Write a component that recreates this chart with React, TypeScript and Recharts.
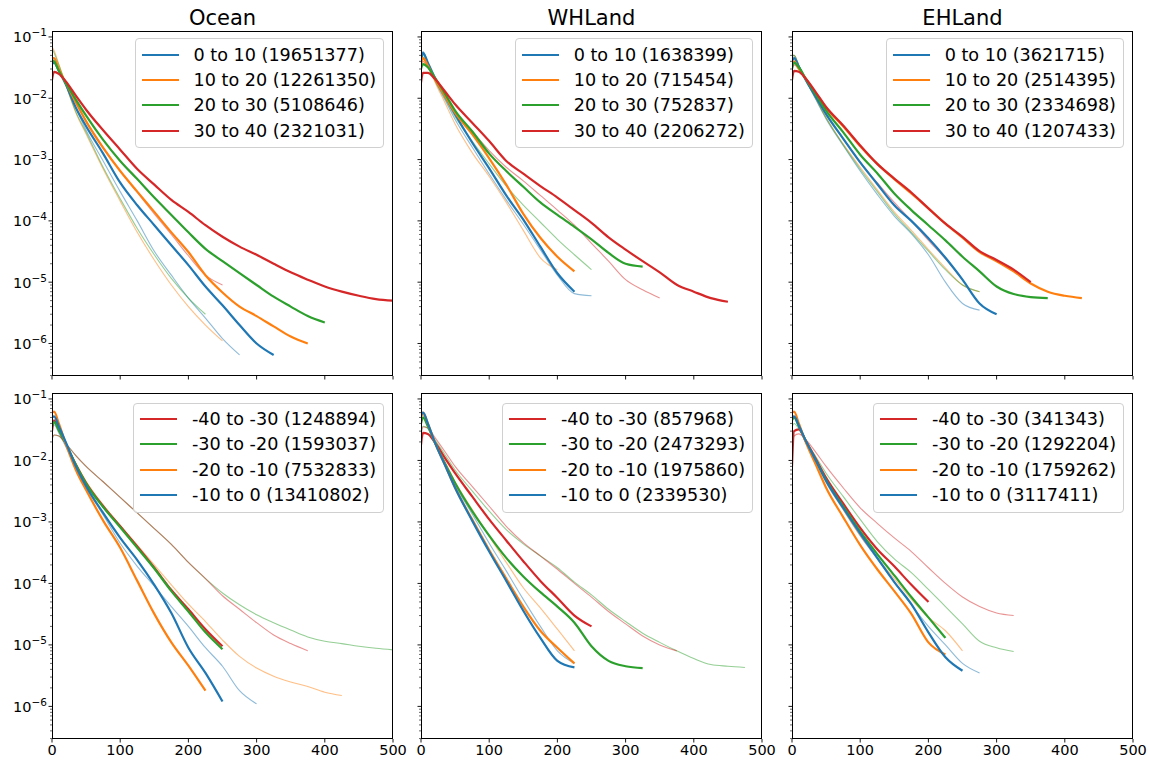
import React from "react";
import { LineChart, Line, XAxis, YAxis } from "recharts";

// shared x grid (bins)
const X = [0, 3, 10, 20, 35, 50, 75, 100, 125, 150, 175, 200, 225, 250, 275, 300, 325, 350, 375, 400, 425, 450, 475, 500];

const X_TICKS = [0, 100, 200, 300, 400, 500];
const Y_MAJOR = [1e-1, 1e-2, 1e-3, 1e-4, 1e-5, 1e-6];
const Y_MAJOR_LABELS = ["−1", "−2", "−3", "−4", "−5", "−6"];
const Y_MIN = 2.95e-7;
const Y_MAX = 0.125;

const TITLES = ["Ocean", "WHLand", "EHLand"];
const BANDS_N = ["0 to 10", "10 to 20", "20 to 30", "30 to 40"];
const BANDS_S = ["-40 to -30", "-30 to -20", "-20 to -10", "-10 to 0"];

const COUNTS_OCEAN_N = [19651377, 12261350, 5108646, 2321031];
const COUNTS_WH_N = [1638399, 715454, 752837, 2206272];
const COUNTS_EH_N = [3621715, 2514395, 2334698, 1207433];
const COUNTS_OCEAN_S = [1248894, 1593037, 7532833, 13410802];
const COUNTS_WH_S = [857968, 2473293, 1975860, 2339530];
const COUNTS_EH_S = [341343, 1292204, 1759262, 3117411];

const BLUE = "#1f77b4";
const ORANGE = "#ff7f0e";
const GREEN = "#2ca02c";
const RED = "#d62728";

// ---- Ocean, north bands
const oceanN_blue = [0.036, 0.038, 0.028, 0.017, 7.0e-3, 3.5e-3, 1.25e-3, 4.2e-4, 1.8e-4, 8.5e-5, 4.0e-5, 1.9e-5, 8.5e-6, 4.2e-6, 2.0e-6, 1.0e-6, 6.5e-7];
const oceanN_orange = [0.045, 0.045, 0.030, 0.018, 8.5e-3, 4.2e-3, 1.55e-3, 6.5e-4, 3.0e-4, 1.4e-4, 6.5e-5, 3.1e-5, 1.3e-5, 6.8e-6, 4.0e-6, 2.8e-6, 1.9e-6, 1.3e-6, 1.0e-6];
const oceanN_green = [0.042, 0.040, 0.028, 0.018, 9.5e-3, 5.2e-3, 2.1e-3, 9.5e-4, 4.8e-4, 2.4e-4, 1.25e-4, 6.5e-5, 3.5e-5, 2.2e-5, 1.4e-5, 9.0e-6, 5.8e-6, 4.0e-6, 2.8e-6, 2.2e-6];
const oceanN_red = [0.020, 0.027, 0.025, 0.019, 1.1e-2, 6.5e-3, 3.0e-3, 1.45e-3, 7.0e-4, 3.9e-4, 2.2e-4, 1.4e-4, 8.5e-5, 5.5e-5, 3.8e-5, 2.8e-5, 2.0e-5, 1.45e-5, 1.1e-5, 8.5e-6, 7.0e-6, 6.0e-6, 5.3e-6, 5.0e-6];
const oceanNf_blue = [0.045, 0.045, 0.030, 0.017, 7.0e-3, 3.0e-3, 9.5e-4, 3.0e-4, 1.0e-4, 3.2e-5, 1.3e-5, 5.5e-6, 2.6e-6, 1.2e-6, 6.5e-7];
const oceanNf_orange = [0.070, 0.060, 0.036, 0.017, 5.8e-3, 2.6e-3, 7.0e-4, 2.1e-4, 6.5e-5, 2.3e-5, 9.0e-6, 4.0e-6, 2.0e-6, 1.1e-6];
const oceanNf_green = [0.065, 0.055, 0.035, 0.017, 6.0e-3, 2.8e-3, 7.5e-4, 2.3e-4, 7.5e-5, 2.8e-5, 1.15e-5, 5.5e-6, 3.0e-6];
const oceanNf_red = [0.035, 0.040, 0.028, 0.018, 8.5e-3, 4.3e-3, 1.6e-3, 6.5e-4, 2.9e-4, 1.3e-4, 6.0e-5, 2.7e-5, 1.3e-5, 9.0e-6];

// ---- WHLand, north bands
const whN_blue = [0.040, 0.055, 0.038, 0.022, 1.1e-2, 5.5e-3, 1.9e-3, 7.2e-4, 2.6e-4, 1.05e-4, 3.8e-5, 1.4e-5, 7.0e-6];
const whN_orange = [0.035, 0.045, 0.034, 0.021, 1.1e-2, 5.8e-3, 2.6e-3, 1.05e-3, 3.9e-4, 1.3e-4, 5.3e-5, 2.6e-5, 1.5e-5];
const whN_green = [0.030, 0.036, 0.032, 0.022, 1.2e-2, 6.3e-3, 2.9e-3, 1.25e-3, 6.5e-4, 3.6e-4, 2.0e-4, 1.25e-4, 8.0e-5, 5.0e-5, 3.0e-5, 2.0e-5, 1.8e-5];
const whN_red = [0.018, 0.026, 0.026, 0.021, 1.3e-2, 8.0e-3, 4.0e-3, 2.0e-3, 9.5e-4, 5.9e-4, 3.7e-4, 2.4e-4, 1.5e-4, 9.3e-5, 5.4e-5, 3.4e-5, 2.2e-5, 1.45e-5, 9.1e-6, 7.0e-6, 5.5e-6, 4.8e-6];
const whNf_blue = [0.050, 0.058, 0.038, 0.020, 9.5e-3, 4.5e-3, 1.6e-3, 5.8e-4, 2.2e-4, 8.8e-5, 3.4e-5, 1.3e-5, 6.5e-6, 6.0e-6];
const whNf_orange = [0.050, 0.055, 0.036, 0.019, 8.5e-3, 3.8e-3, 1.3e-3, 5.3e-4, 2.0e-4, 7.0e-5, 2.5e-5, 1.6e-5];
const whNf_green = [0.050, 0.050, 0.035, 0.020, 1.0e-2, 5.0e-3, 2.0e-3, 8.5e-4, 3.7e-4, 1.8e-4, 9.5e-5, 5.0e-5, 2.8e-5, 1.6e-5];
const whNf_red = [0.035, 0.040, 0.032, 0.021, 1.15e-2, 6.2e-3, 2.9e-3, 1.4e-3, 7.5e-4, 4.5e-4, 2.6e-4, 1.5e-4, 8.5e-5, 4.3e-5, 2.2e-5, 1.1e-5, 7.5e-6, 5.5e-6];

// ---- EHLand, north bands
const ehN_blue = [0.040, 0.045, 0.033, 0.020, 1.05e-2, 5.5e-3, 2.2e-3, 9.0e-4, 4.0e-4, 1.8e-4, 1.0e-4, 5.2e-5, 2.5e-5, 1.1e-5, 4.5e-6, 3.0e-6];
const ehN_orange = [0.035, 0.040, 0.030, 0.021, 1.2e-2, 7.0e-3, 3.5e-3, 1.65e-3, 8.5e-4, 4.8e-4, 2.8e-4, 1.6e-4, 9.0e-5, 5.3e-5, 3.1e-5, 2.2e-5, 1.5e-5, 9.5e-6, 7.0e-6, 6.0e-6, 5.5e-6];
const ehN_green = [0.030, 0.038, 0.032, 0.021, 1.15e-2, 6.3e-3, 2.8e-3, 1.2e-3, 6.0e-4, 2.8e-4, 1.5e-4, 8.5e-5, 4.8e-5, 2.6e-5, 1.5e-5, 8.5e-6, 6.4e-6, 5.7e-6, 5.5e-6];
const ehN_red = [0.020, 0.028, 0.027, 0.021, 1.25e-2, 7.2e-3, 3.6e-3, 1.7e-3, 8.5e-4, 4.9e-4, 2.9e-4, 1.6e-4, 9.0e-5, 5.5e-5, 3.2e-5, 2.3e-5, 1.6e-5, 1.0e-5];
const ehNf_blue = [0.045, 0.050, 0.034, 0.020, 9.5e-3, 4.6e-3, 1.7e-3, 6.5e-4, 2.7e-4, 1.2e-4, 6.2e-5, 2.8e-5, 1.0e-5, 4.5e-6, 3.5e-6];
const ehNf_orange = [0.050, 0.050, 0.034, 0.020, 9.8e-3, 4.8e-3, 1.8e-3, 7.5e-4, 3.2e-4, 1.4e-4, 7.0e-5, 3.4e-5, 1.7e-5, 9.0e-6, 7.0e-6];
const ehNf_green = [0.050, 0.050, 0.034, 0.020, 9.8e-3, 4.8e-3, 1.75e-3, 7.0e-4, 3.0e-4, 1.3e-4, 6.5e-5, 3.2e-5, 1.6e-5, 9.0e-6, 7.0e-6];
const ehNf_red = [0.030, 0.035, 0.030, 0.020, 1.05e-2, 5.5e-3, 2.2e-3, 9.0e-4, 4.2e-4, 2.0e-4, 1.0e-4, 4.8e-5, 2.4e-5, 1.1e-5];

// ---- Ocean, south bands
const oceanS_red = [0.030, 0.045, 0.032, 0.019, 8.5e-3, 4.3e-3, 1.8e-3, 8.5e-4, 4.0e-4, 1.8e-4, 7.8e-5, 3.8e-5, 1.8e-5, 9.5e-6];
const oceanS_green = [0.035, 0.042, 0.031, 0.019, 8.5e-3, 4.2e-3, 1.75e-3, 8.2e-4, 3.8e-4, 1.75e-4, 7.5e-5, 3.5e-5, 1.6e-5, 8.5e-6];
const oceanS_orange = [0.060, 0.062, 0.040, 0.019, 7.0e-3, 3.3e-3, 1.05e-3, 3.8e-4, 1.1e-4, 3.2e-5, 1.1e-5, 4.6e-6, 1.8e-6];
const oceanS_blue = [0.050, 0.052, 0.036, 0.020, 8.0e-3, 3.8e-3, 1.4e-3, 5.5e-4, 2.4e-4, 9.5e-5, 3.3e-5, 9.0e-6, 3.5e-6, 1.2e-6];
const oceanSf_red = [0.022, 0.026, 0.025, 0.019, 1.2e-2, 8.0e-3, 4.5e-3, 2.5e-3, 1.4e-3, 7.8e-4, 4.3e-4, 2.2e-4, 1.2e-4, 6.3e-5, 3.8e-5, 2.3e-5, 1.45e-5, 1.05e-5, 8.0e-6];
const oceanSf_green = [0.022, 0.026, 0.025, 0.019, 1.2e-2, 8.0e-3, 4.5e-3, 2.5e-3, 1.4e-3, 7.8e-4, 4.3e-4, 2.2e-4, 1.2e-4, 7.0e-5, 4.5e-5, 3.1e-5, 2.3e-5, 1.75e-5, 1.35e-5, 1.15e-5, 1.05e-5, 9.5e-6, 8.8e-6, 8.3e-6];
const oceanSf_orange = [0.040, 0.042, 0.030, 0.019, 9.0e-3, 4.6e-3, 1.9e-3, 8.8e-4, 4.2e-4, 2.0e-4, 9.5e-5, 4.6e-5, 2.4e-5, 1.2e-5, 6.5e-6, 4.2e-6, 3.1e-6, 2.5e-6, 2.1e-6, 1.7e-6, 1.5e-6];
const oceanSf_blue = [0.036, 0.038, 0.028, 0.017, 7.5e-3, 3.6e-3, 1.3e-3, 4.5e-4, 1.9e-4, 9.0e-5, 4.2e-5, 2.0e-5, 9.0e-6, 4.5e-6, 1.8e-6, 1.1e-6];

// ---- WHLand, south bands
const whS_red = [0.018, 0.028, 0.027, 0.020, 1.1e-2, 6.2e-3, 2.6e-3, 1.1e-3, 5.0e-4, 2.3e-4, 1.1e-4, 5.8e-5, 3.0e-5, 2.0e-5];
const whS_green = [0.040, 0.050, 0.036, 0.020, 9.0e-3, 4.3e-3, 1.5e-3, 6.0e-4, 2.6e-4, 1.3e-4, 7.2e-5, 4.2e-5, 2.3e-5, 9.5e-6, 5.5e-6, 4.5e-6, 4.2e-6];
const whS_orange = [0.050, 0.060, 0.040, 0.020, 8.5e-3, 3.6e-3, 1.1e-3, 3.5e-4, 1.2e-4, 4.2e-5, 1.7e-5, 9.0e-6, 5.0e-6];
const whS_blue = [0.055, 0.060, 0.040, 0.020, 8.5e-3, 3.6e-3, 1.05e-3, 3.3e-4, 1.1e-4, 3.6e-5, 1.3e-5, 5.5e-6, 4.3e-6];
const whSf_red = [0.025, 0.035, 0.034, 0.024, 1.4e-2, 8.0e-3, 3.8e-3, 1.8e-3, 8.5e-4, 4.6e-4, 2.8e-4, 1.7e-4, 1.0e-4, 6.0e-5, 3.5e-5, 2.2e-5, 1.4e-5, 1.0e-5, 8.0e-6];
const whSf_green = [0.030, 0.036, 0.033, 0.022, 1.25e-2, 7.0e-3, 3.2e-3, 1.5e-3, 7.5e-4, 4.4e-4, 2.8e-4, 1.8e-4, 1.05e-4, 6.5e-5, 3.8e-5, 2.4e-5, 1.55e-5, 1.1e-5, 8.0e-6, 6.0e-6, 4.8e-6, 4.5e-6, 4.3e-6];
const whSf_orange = [0.045, 0.050, 0.036, 0.020, 9.5e-3, 4.5e-3, 1.6e-3, 5.8e-4, 2.2e-4, 8.5e-5, 4.0e-5, 1.8e-5, 8.0e-6];
const whSf_blue = [0.050, 0.055, 0.038, 0.020, 9.0e-3, 4.0e-3, 1.35e-3, 4.5e-4, 1.6e-4, 5.5e-5, 2.0e-5, 8.0e-6, 5.0e-6];

// ---- EHLand, south bands
const ehS_red = [0.008, 0.030, 0.032, 0.021, 1.05e-2, 5.2e-3, 2.0e-3, 8.0e-4, 3.6e-4, 1.9e-4, 9.5e-5, 5.0e-5];
const ehS_green = [0.045, 0.050, 0.036, 0.021, 1.0e-2, 4.8e-3, 1.8e-3, 7.0e-4, 3.0e-4, 1.35e-4, 6.0e-5, 2.8e-5, 1.3e-5];
const ehS_orange = [0.060, 0.062, 0.040, 0.020, 8.5e-3, 3.6e-3, 1.2e-3, 4.2e-4, 1.7e-4, 7.5e-5, 3.2e-5, 1.1e-5, 7.0e-6];
const ehS_blue = [0.050, 0.052, 0.037, 0.021, 1.0e-2, 4.7e-3, 1.7e-3, 6.5e-4, 2.6e-4, 1.05e-4, 4.6e-5, 1.6e-5, 6.3e-6, 3.8e-6];
const ehSf_red = [0.018, 0.025, 0.027, 0.022, 1.35e-2, 8.0e-3, 3.6e-3, 1.7e-3, 9.5e-4, 5.5e-4, 3.3e-4, 1.8e-4, 1.0e-4, 6.0e-5, 4.2e-5, 3.3e-5, 3.0e-5];
const ehSf_green = [0.035, 0.040, 0.033, 0.021, 1.15e-2, 6.2e-3, 2.6e-3, 1.1e-3, 4.8e-4, 2.5e-4, 1.5e-4, 8.0e-5, 4.2e-5, 2.2e-5, 1.15e-5, 9.0e-6, 7.8e-6];
const ehSf_orange = [0.050, 0.052, 0.037, 0.020, 9.5e-3, 4.5e-3, 1.6e-3, 6.0e-4, 2.6e-4, 1.2e-4, 5.5e-5, 2.8e-5, 1.7e-5, 8.0e-6];
const ehSf_blue = [0.050, 0.052, 0.037, 0.020, 9.5e-3, 4.4e-3, 1.6e-3, 6.0e-4, 2.5e-4, 1.05e-4, 4.5e-5, 2.0e-5, 1.0e-5, 5.0e-6, 3.5e-6];

type Series = { color: string; values: number[]; label?: string; count?: number };
type Panel = { title?: string; solid: Series[]; faded: Series[]; row: number; col: number };

const north = (counts: number[], b: number[], o: number[], g: number[], r: number[]): Series[] => [
  { color: BLUE, values: b, label: BANDS_N[0], count: counts[0] },
  { color: ORANGE, values: o, label: BANDS_N[1], count: counts[1] },
  { color: GREEN, values: g, label: BANDS_N[2], count: counts[2] },
  { color: RED, values: r, label: BANDS_N[3], count: counts[3] },
];
const south = (counts: number[], r: number[], g: number[], o: number[], b: number[]): Series[] => [
  { color: RED, values: r, label: BANDS_S[0], count: counts[0] },
  { color: GREEN, values: g, label: BANDS_S[1], count: counts[1] },
  { color: ORANGE, values: o, label: BANDS_S[2], count: counts[2] },
  { color: BLUE, values: b, label: BANDS_S[3], count: counts[3] },
];
const faded = (b: number[], o: number[], g: number[], r: number[]): Series[] => [
  { color: BLUE, values: b },
  { color: ORANGE, values: o },
  { color: GREEN, values: g },
  { color: RED, values: r },
];

const PANELS: Panel[] = [
  { title: TITLES[0], row: 0, col: 0, solid: north(COUNTS_OCEAN_N, oceanN_blue, oceanN_orange, oceanN_green, oceanN_red), faded: faded(oceanNf_blue, oceanNf_orange, oceanNf_green, oceanNf_red) },
  { title: TITLES[1], row: 0, col: 1, solid: north(COUNTS_WH_N, whN_blue, whN_orange, whN_green, whN_red), faded: faded(whNf_blue, whNf_orange, whNf_green, whNf_red) },
  { title: TITLES[2], row: 0, col: 2, solid: north(COUNTS_EH_N, ehN_blue, ehN_orange, ehN_green, ehN_red), faded: faded(ehNf_blue, ehNf_orange, ehNf_green, ehNf_red) },
  { row: 1, col: 0, solid: south(COUNTS_OCEAN_S, oceanS_red, oceanS_green, oceanS_orange, oceanS_blue), faded: faded(oceanSf_blue, oceanSf_orange, oceanSf_green, oceanSf_red) },
  { row: 1, col: 1, solid: south(COUNTS_WH_S, whS_red, whS_green, whS_orange, whS_blue), faded: faded(whSf_blue, whSf_orange, whSf_green, whSf_red) },
  { row: 1, col: 2, solid: south(COUNTS_EH_S, ehS_red, ehS_green, ehS_orange, ehS_blue), faded: faded(ehSf_blue, ehSf_orange, ehSf_green, ehSf_red) },
];

// layout (px)
const COL_LEFT = [52, 421, 792];
const PLOT_W = 341;
const ROW_TOP = [31, 393];
const PLOT_H = [345, 346];
const LEGEND_TOP = [38, 402.5];
const GUT_L = 50;
const GUT_T = 5;
const GUT_R = 20;
const GUT_B = 25;
const FONT = '"DejaVu Sans", Verdana, sans-serif';

// log minor ticks, 2..9 per decade inside the domain
const Y_TICKS: number[] = [];
for (let k = -7; k <= -1; k++) {
  for (let m = 1; m <= 9; m++) {
    const v = m * Math.pow(10, k);
    if (v >= Y_MIN && v <= Y_MAX) Y_TICKS.push(v);
  }
}

const makeYTick = (showLabel: boolean) => (props: any) => {
  const { x, y, payload } = props;
  const lg = Math.log10(payload.value);
  const major = Math.abs(lg - Math.round(lg)) < 1e-6;
  const idx = Y_MAJOR.findIndex((v) => Math.abs(Math.log10(v) - lg) < 1e-6);
  return (
    <g>
      <line x1={x - (major ? 3.5 : 2)} x2={x} y1={y} y2={y} stroke="#000" strokeWidth={major ? 0.9 : 0.6} />
      {major && showLabel && idx >= 0 && (
        <text x={x - 5} y={y + 5.5} textAnchor="end" fontSize={14.5} fill="#000" fontFamily={FONT}>
          10
          <tspan fontSize={10.5} dy={-6}>{Y_MAJOR_LABELS[idx]}</tspan>
        </text>
      )}
    </g>
  );
};

const makeXTick = (showLabel: boolean) => (props: any) => {
  const { x, y, payload } = props;
  return (
    <g>
      <line x1={x} x2={x} y1={y} y2={y + 3.5} stroke="#000" strokeWidth={0.9} />
      {showLabel && (
        <text x={x} y={y + 16} textAnchor="middle" fontSize={14.5} fill="#000" fontFamily={FONT}>
          {payload.value}
        </text>
      )}
    </g>
  );
};

const PanelChart = ({ panel }: { panel: Panel }) => {
  const left = COL_LEFT[panel.col];
  const top = ROW_TOP[panel.row];
  const h = PLOT_H[panel.row];
  const all = [...panel.faded, ...panel.solid];
  const rows = X.map((x, i) => {
    const r: any = { x };
    all.forEach((s, j) => {
      r["s" + j] = s.values[i];
    });
    return r;
  });
  const nf = panel.faded.length;

  return (
    <>
      <div style={{ position: "absolute", left: left - GUT_L, top: top - GUT_T }}>
        <LineChart
          width={GUT_L + PLOT_W + GUT_R}
          height={GUT_T + h + GUT_B}
          data={rows}
          margin={{ top: GUT_T, right: GUT_R, bottom: 0, left: 0 }}
        >
          <XAxis
            dataKey="x"
            type="number"
            domain={[0, 500]}
            ticks={X_TICKS}
            interval={0}
            height={GUT_B}
            tickSize={0}
            tickMargin={0}
            tickLine={false}
            axisLine={false}
            allowDataOverflow
            tick={makeXTick(panel.row === 1)}
          />
          <YAxis
            type="number"
            scale="log"
            domain={[Y_MIN, Y_MAX]}
            ticks={Y_TICKS}
            interval={0}
            width={GUT_L}
            tickSize={0}
            tickMargin={0}
            tickLine={false}
            axisLine={false}
            allowDataOverflow
            tick={makeYTick(panel.col === 0)}
          />
          {all.map((s, j) => (
            <Line
              key={j}
              dataKey={"s" + j}
              type="monotone"
              stroke={s.color}
              strokeWidth={j < nf ? 1.1 : 2.2}
              strokeOpacity={j < nf ? 0.5 : 1}
              dot={false}
              activeDot={false}
              isAnimationActive={false}
            />
          ))}
        </LineChart>
      </div>
      <div
        style={{
          position: "absolute",
          left,
          top,
          width: PLOT_W,
          height: h,
          border: "1px solid #000",
          boxSizing: "border-box",
          pointerEvents: "none",
        }}
      />
      {panel.title && (
        <div
          style={{
            position: "absolute",
            left,
            top: 6,
            width: PLOT_W,
            textAlign: "center",
            fontSize: 21,
            lineHeight: "24px",
            fontFamily: FONT,
            color: "#000",
          }}
        >
          {panel.title}
        </div>
      )}
      <div
        style={{
          position: "absolute",
          right: 1149 - (left + PLOT_W - 9),
          top: LEGEND_TOP[panel.row],
          padding: "3px 7px 4px 6px",
          border: "1px solid #d0d0d0",
          borderRadius: 4,
          background: "rgba(255,255,255,0.8)",
          fontFamily: FONT,
          fontSize: 17.6,
          color: "#000",
          whiteSpace: "nowrap",
        }}
      >
        {panel.solid.map((s) => (
          <div key={s.label} style={{ display: "flex", alignItems: "center", height: 25.3 }}>
            <div style={{ width: 37, height: 2, background: s.color, marginRight: 15 }} />
            <span>{`${s.label} (${s.count})`}</span>
          </div>
        ))}
      </div>
    </>
  );
};

export default function App() {
  return (
    <div style={{ position: "absolute", left: 0, top: 0, width: 1149, height: 763, background: "#fff", overflow: "hidden" }}>
      {PANELS.map((p, i) => (
        <PanelChart key={i} panel={p} />
      ))}
    </div>
  );
}
